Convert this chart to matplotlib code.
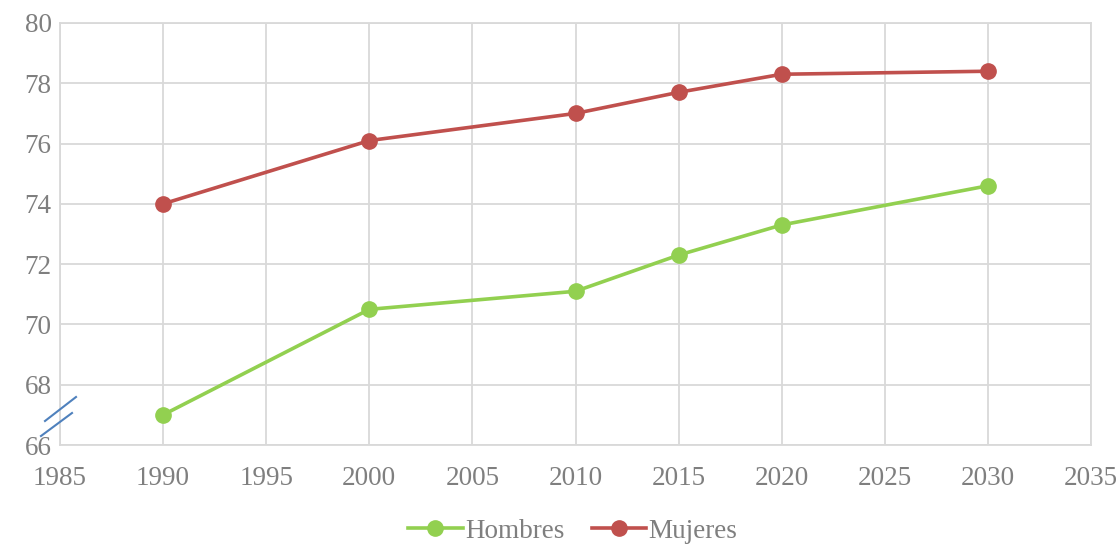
import matplotlib
matplotlib.use("Agg")
import matplotlib.pyplot as plt

years = [1990, 2000, 2010, 2015, 2020, 2030]
hombres = [67.0, 70.5, 71.1, 72.3, 73.3, 74.6]
mujeres = [74.0, 76.1, 77.0, 77.7, 78.3, 78.4]

plt.rcParams['font.family'] = ['Liberation Serif', 'DejaVu Serif']

fig = plt.figure(figsize=(11.19, 5.44), dpi=100)
ax = fig.add_axes([60/1119, 1-445/544, (1091-60)/1119, (445-23)/544])

ax.plot(years, hombres, color='#92D050', lw=2.6, marker='o', ms=11, label='Hombres', zorder=3)
ax.plot(years, mujeres, color='#C0504D', lw=2.6, marker='o', ms=11, label='Mujeres', zorder=3)

ax.set_xlim(1985, 2035)
ax.set_ylim(66, 80)
ax.set_xticks(range(1985, 2036, 5))
ax.set_yticks(range(66, 81, 2))
ax.grid(True, color='#D9D9D9', lw=1.3)
ax.set_axisbelow(True)
for s in ax.spines.values():
    s.set_color('#D9D9D9')
    s.set_linewidth(1.3)
ax.tick_params(axis='x', length=0, labelsize=19.5, labelcolor='#7F7F7F', pad=15)
ax.tick_params(axis='y', length=0, labelsize=19.5, labelcolor='#7F7F7F', pad=6)

# break marks on the y axis
def fig2ax(px, py):
    return ((px - 60) / (1091 - 60), (445 - py) / (445 - 23))
for (x0, y0), (x1, y1) in [((45, 421), (76, 397)), ((41, 436), (72, 413))]:
    a0 = fig2ax(x0, y0); a1 = fig2ax(x1, y1)
    ax.plot([a0[0], a1[0]], [a0[1], a1[1]], transform=ax.transAxes,
            color='#4F81BD', lw=1.5, clip_on=False, zorder=5)

leg = fig.legend(loc='center', bbox_to_anchor=(0.512, 1-531/544), ncol=2, frameon=False,
                 fontsize=19.5, handlelength=2.0, columnspacing=1.0, handletextpad=0.1)
for t in leg.get_texts():
    t.set_color('#7F7F7F')

fig.savefig('out.png', dpi=100)
